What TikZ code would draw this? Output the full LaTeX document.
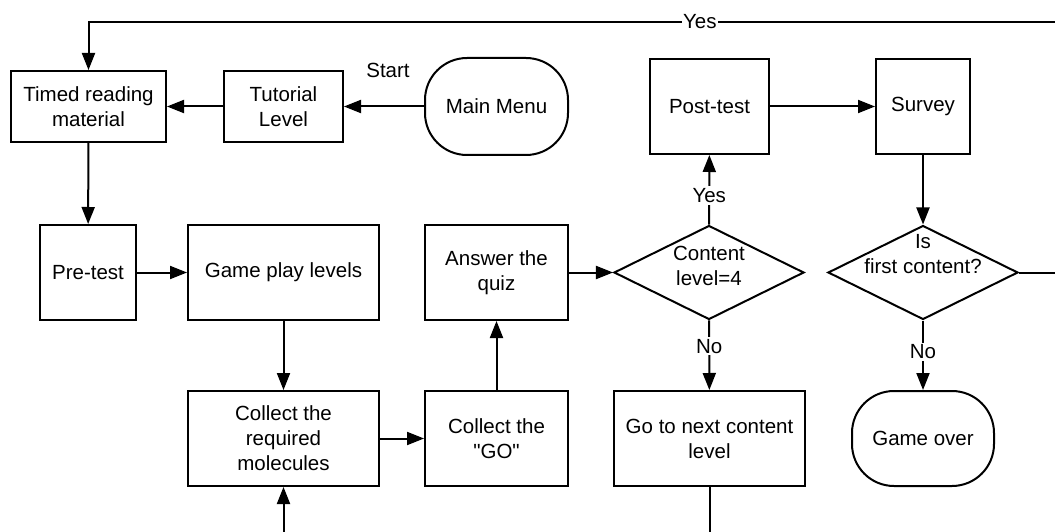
\documentclass[tikz,border=0pt]{standalone}
\usepackage{fontspec}
\setmainfont{Liberation Sans}[Ligatures=TeXOff]
\usetikzlibrary{arrows.meta,shapes.geometric}
\begin{document}
\begin{tikzpicture}[x=1pt,y=-1pt,
  every node/.style={font=\fontsize{20.5pt}{25pt}\selectfont, align=center},
  box/.style={draw, line width=2pt, inner sep=0pt},
  term/.style={box, rounded corners=42pt},
  decision/.style={box, diamond},
  flow/.style={line width=2pt, -{Triangle[length=17pt,width=13pt]}},
  tag/.style={fill=white, inner sep=2pt}
]
\useasboundingbox (0,0) rectangle (1055,532);

% top row
\node[box, minimum width=155pt, minimum height=71pt] (timed) at (88.5,106.5) {Timed reading\\material};
\node[box, minimum width=119pt, minimum height=71pt] (tut) at (283.5,106.5) {Tutorial\\Level};
\node[term, minimum width=143pt, minimum height=97pt] (menu) at (496.5,106.5) {Main Menu};
\node (start) at (388,70) {Start};
\node[box, minimum width=119pt, minimum height=95pt] (post) at (709.5,106.5) {Post-test};
\node[box, minimum width=94pt, minimum height=95pt] (survey) at (923,106.5) {Survey};

% middle row
\node[box, minimum width=96pt, minimum height=95pt] (pre) at (88,272.5) {Pre-test};
\node[box, minimum width=191pt, minimum height=95pt] (game) at (283.5,272.5) {Game play levels};
\node[box, minimum width=143pt, minimum height=95pt] (quiz) at (496.5,272.5) {Answer the\\quiz};
\node[decision, minimum width=190pt, minimum height=94pt,
      label={[yshift=7pt]center:{Content\\level=4}}] (cdia) at (709,272.5) {};
\node[decision, minimum width=190pt, minimum height=94pt,
      label={[yshift=18pt]center:{Is\\first content?}}] (fdia) at (923,272.5) {};

% bottom row
\node[box, minimum width=191pt, minimum height=95pt] (mol) at (283.5,438.5) {Collect the\\required\\molecules};
\node[box, minimum width=143pt, minimum height=95pt] (go) at (496.5,438.5) {Collect the\\"GO"};
\node[box, minimum width=191pt, minimum height=95pt] (next) at (709.5,438.5) {Go to next content\\level};
\node[term, minimum width=142pt, minimum height=95pt] (over) at (923,438.5) {Game over};

% loop turning points
\coordinate (loopR) at (1062,22);
\coordinate (loopB) at (709.5,545);

% connectors
\draw[flow] (menu) -- (tut);
\draw[flow] (tut) -- (timed);
\draw[flow] (timed) -- (pre);
\draw[flow] (pre) -- (game);
\draw[flow] (game) -- (mol);
\draw[flow] (mol) -- (go);
\draw[flow] (go) -- (quiz);
\draw[flow] (quiz) -- (cdia);
\draw[flow] (cdia) -- node[tag, pos=0.42] {Yes} (post);
\draw[flow] (cdia) -- node[tag, pos=0.37] {No} (next);
\draw[flow] (post) -- (survey);
\draw[flow] (survey) -- (fdia);
\draw[flow] (fdia) -- node[tag, pos=0.45] {No} (over);
\draw[flow] (fdia.east) -| (loopR) -- node[tag, pos=0.372, inner sep=1pt] {Yes} (timed.north |- loopR) -- (timed.north);
\draw[flow] (next) -- (loopB) -| (mol);
\end{tikzpicture}
\end{document}
